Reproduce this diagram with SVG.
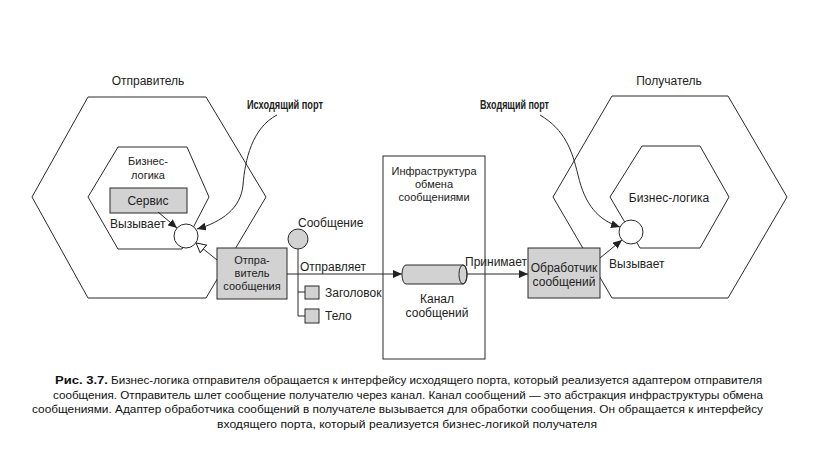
<svg xmlns="http://www.w3.org/2000/svg" width="815" height="455" viewBox="0 0 815 455">
<defs>
<marker id="arr" markerUnits="userSpaceOnUse" markerWidth="10" markerHeight="8" refX="9" refY="4" orient="auto">
<path d="M0,0 L9,4 L0,8 Z" fill="#222"/>
</marker>
<marker id="tri" markerUnits="userSpaceOnUse" markerWidth="12" markerHeight="12" refX="10" refY="5.5" orient="auto">
<path d="M0.5,0.5 L10,5.5 L0.5,10.5 Z" fill="#fff" stroke="#222" stroke-width="1"/>
</marker>
<style>
.hex{fill:none;stroke:#2a2a2a;stroke-width:1}
.box{fill:#d2d2d2;stroke:#2a2a2a;stroke-width:1}
.port{fill:#fff;stroke:#2a2a2a;stroke-width:1}
.ln{fill:none;stroke:#2a2a2a;stroke-width:1}
.t{font-family:"Liberation Sans",Arial,sans-serif;font-size:12px;fill:#222}
.s{font-size:11px}
.c{text-anchor:middle}
.b{font-family:"Liberation Sans Narrow","Liberation Sans",Arial,sans-serif;font-size:12px;font-weight:bold;fill:#222}
.cap{font-family:"Liberation Sans",Arial,sans-serif;font-size:11.5px;fill:#111}
</style>
</defs>
<rect width="815" height="455" fill="#fff"/>

<g id="sender">
<polygon class="hex" points="32,197 88,97 206,97 266,197 206,298 88,298"/>
<text class="t c" x="148" y="85">Отправитель</text>
</g>
<g id="sender-logic">
<polygon class="hex" points="88,197 118,147 187,147 209,197 182,249 118,249"/>
<text class="t c s" x="148" y="165">Бизнес-</text>
<text class="t c s" x="148" y="179">логика</text>
</g>
<g id="service">
<rect class="box" x="110" y="188" width="77" height="25"/>
<text class="t c" x="148" y="205">Сервис</text>
</g>
<g id="receiver">
<polygon class="hex" points="553,197 612,96 728,96 787,197 728,298 612,298"/>
<text class="t c" x="669" y="85">Получатель</text>
</g>
<g id="receiver-logic">
<polygon class="hex" points="610,197 642,146 700,146 729,197 700,248 640,248"/>
<text class="t c" x="669" y="202">Бизнес-логика</text>
</g>
<g id="infrastructure">
<rect x="383" y="156" width="102" height="203" fill="#fff" stroke="#2a2a2a" stroke-width="1"/>
<text class="t c s" x="434" y="175">Инфраструктура</text>
<text class="t c s" x="434" y="188">обмена</text>
<text class="t c s" x="434" y="201">сообщениями</text>
</g>

<g id="connectors">
<path class="ln" d="M158,212 L177,228" marker-end="url(#arr)"/>
<path class="ln" d="M217,260 L196,243" marker-end="url(#tri)"/>
<path class="ln" d="M277,115 C252,128 245,160 243,185 C241,208 222,222 197,229" marker-end="url(#arr)"/>
<path class="ln" d="M287,274 L402,274" marker-end="url(#arr)"/>
<path class="ln" d="M298,249 L298,316 L305,316 M298,292 L305,292"/>
<path class="ln" d="M467,274 L528,274" marker-end="url(#arr)"/>
<path class="ln" d="M600,258 L622,240" marker-end="url(#arr)"/>
<path class="ln" d="M540,115 C565,130 572,150 578,175 C585,205 598,220 620,227" marker-end="url(#arr)"/>
</g>

<g id="outgoing-port">
<circle class="port" cx="186" cy="236" r="12"/>
<text class="b" x="247" y="109" textLength="76" lengthAdjust="spacingAndGlyphs">Исходящий порт</text>
<text class="t" x="110" y="228">Вызывает</text>
</g>
<g id="incoming-port">
<circle class="port" cx="631" cy="232" r="12"/>
<text class="b" x="480" y="109" textLength="69" lengthAdjust="spacingAndGlyphs">Входящий порт</text>
<text class="t" x="609" y="268">Вызывает</text>
</g>
<g id="message-sender">
<rect class="box" x="217" y="248" width="70" height="51"/>
<text class="t c s" x="252" y="264">Отпра-</text>
<text class="t c s" x="252" y="277">витель</text>
<text class="t c s" x="252" y="290">сообщения</text>
</g>
<g id="message">
<circle class="box" cx="298" cy="239" r="10"/>
<text class="t" x="298" y="227">Сообщение</text>
<text class="t" x="300" y="271">Отправляет</text>
</g>
<g id="header">
<rect class="box" x="305" y="286" width="14" height="13"/>
<text class="t" x="325" y="297">Заголовок</text>
</g>
<g id="body">
<rect class="box" x="305" y="309" width="14" height="14"/>
<text class="t" x="325" y="320">Тело</text>
</g>
<g id="channel">
<path class="box" d="M406,265 L463,265 A4,9.5 0 0 1 463,284 L406,284 A4,9.5 0 0 1 406,265 Z"/>
<ellipse cx="463" cy="274.5" rx="4" ry="9.5" fill="none" stroke="#2a2a2a" stroke-width="1"/>
<text class="t c" x="437" y="303">Канал</text>
<text class="t c" x="437" y="317">сообщений</text>
<text class="t" x="465" y="266">Принимает</text>
</g>
<g id="message-handler">
<rect class="box" x="528" y="248" width="72" height="50"/>
<text class="t c" x="564" y="272">Обработчик</text>
<text class="t c" x="564" y="286">сообщений</text>
</g>

<g id="caption">
<text class="cap" x="55" y="384" font-weight="bold" textLength="53" lengthAdjust="spacingAndGlyphs">Рис. 3.7.</text>
<text class="cap" x="111" y="384" textLength="651" lengthAdjust="spacingAndGlyphs">Бизнес-логика отправителя обращается к интерфейсу исходящего порта, который реализуется адаптером отправителя</text>
<text class="cap" x="53" y="398.5" textLength="710" lengthAdjust="spacingAndGlyphs">сообщения. Отправитель шлет сообщение получателю через канал. Канал сообщений — это абстракция инфраструктуры обмена</text>
<text class="cap" x="32" y="413" textLength="731" lengthAdjust="spacingAndGlyphs">сообщениями. Адаптер обработчика сообщений в получателе вызывается для обработки сообщения. Он обращается к интерфейсу</text>
<text class="cap" x="217" y="427.5" textLength="380" lengthAdjust="spacingAndGlyphs">входящего порта, который реализуется бизнес-логикой получателя</text>
</g>
</svg>
